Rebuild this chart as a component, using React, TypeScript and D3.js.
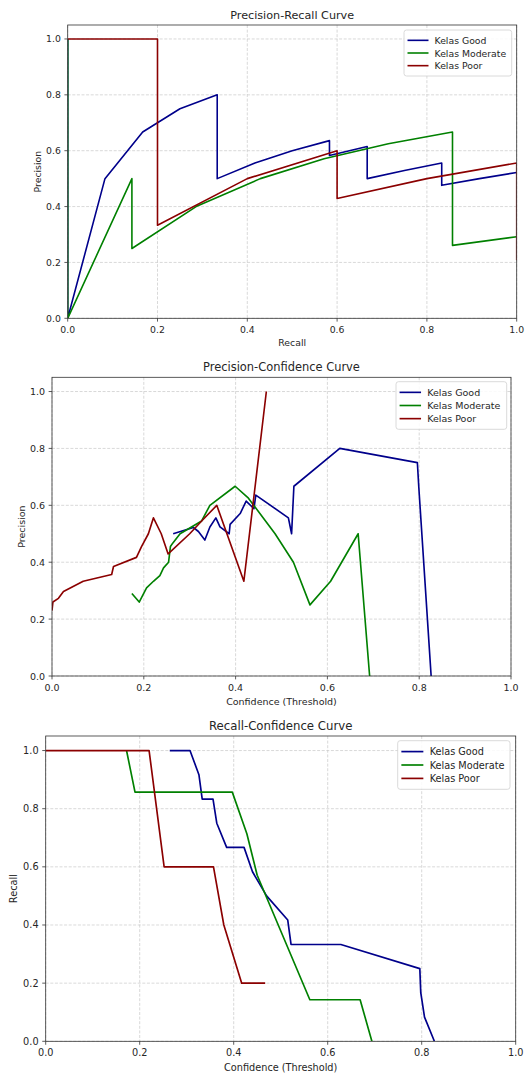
import React from "react";
import * as d3 from "d3";

// ---- data ----
const classNames = ["Kelas Good", "Kelas Moderate", "Kelas Poor"];
const classColors = ["#00008B", "#008000", "#8B0000"];

// Precision-Recall (sklearn order, recall descending)
const prGoodRecall = [1.0, 0.917, 0.833, 0.833, 0.75, 0.667, 0.667, 0.583, 0.583, 0.5, 0.417, 0.333, 0.333, 0.25, 0.167, 0.083, 0, 0];
const prGoodPrecision = [0.522, 0.5, 0.476, 0.556, 0.529, 0.5, 0.615, 0.583, 0.636, 0.6, 0.556, 0.5, 0.8, 0.75, 0.667, 0.5, 0, 1];
const prModRecall = [1.0, 0.857, 0.857, 0.714, 0.571, 0.429, 0.286, 0.143, 0.143, 0, 0];
const prModPrecision = [0.292, 0.261, 0.667, 0.625, 0.571, 0.5, 0.4, 0.25, 0.5, 0, 1];
const prPoorRecall = [1.0, 1.0, 0.8, 0.6, 0.6, 0.4, 0.2, 0.2, 0];
const prPoorPrecision = [0.208, 0.556, 0.5, 0.429, 0.6, 0.5, 0.333, 1.0, 1.0];

// Precision vs confidence threshold
const pcGoodConf = [0.264, 0.308, 0.319, 0.333, 0.344, 0.357, 0.366, 0.386, 0.388, 0.41, 0.423, 0.44, 0.444, 0.515, 0.522, 0.527, 0.627, 0.796, 0.799, 0.826];
const pcGoodPrecision = [0.5, 0.522, 0.508, 0.478, 0.524, 0.556, 0.524, 0.5, 0.533, 0.571, 0.615, 0.588, 0.636, 0.556, 0.5, 0.667, 0.8, 0.75, 0.667, 0];
const pcModConf = [0.174, 0.19, 0.206, 0.221, 0.235, 0.243, 0.254, 0.258, 0.263, 0.279, 0.326, 0.344, 0.399, 0.428, 0.486, 0.526, 0.562, 0.607, 0.667, 0.692];
const pcModPrecision = [0.29, 0.26, 0.31, 0.333, 0.353, 0.38, 0.4, 0.455, 0.467, 0.5, 0.545, 0.6, 0.667, 0.625, 0.5, 0.4, 0.25, 0.333, 0.5, 0];
const pcPoorConf = [0, 0.002, 0.014, 0.025, 0.068, 0.13, 0.134, 0.184, 0.195, 0.21, 0.221, 0.238, 0.253, 0.3, 0.326, 0.359, 0.418, 0.467];
const pcPoorPrecision = [0.23, 0.26, 0.273, 0.297, 0.333, 0.357, 0.385, 0.417, 0.455, 0.5, 0.556, 0.5, 0.429, 0.5, 0.545, 0.6, 0.333, 1.0];

// Recall vs confidence threshold
const rcGoodConf = [0.264, 0.307, 0.326, 0.333, 0.356, 0.364, 0.385, 0.422, 0.44, 0.47, 0.515, 0.522, 0.628, 0.796, 0.798, 0.806, 0.827];
const rcGoodRecall = [1, 1, 0.917, 0.833, 0.833, 0.75, 0.667, 0.667, 0.583, 0.5, 0.417, 0.333, 0.333, 0.25, 0.167, 0.083, 0];
const rcModConf = [0.172, 0.19, 0.397, 0.428, 0.45, 0.562, 0.669, 0.694];
const rcModRecall = [1, 0.857, 0.857, 0.714, 0.571, 0.143, 0.143, 0];
const rcPoorConf = [0, 0.22, 0.252, 0.357, 0.379, 0.417, 0.467];
const rcPoorRecall = [1, 1, 0.6, 0.6, 0.4, 0.2, 0.2];

const ticks = [0, 0.2, 0.4, 0.6, 0.8, 1.0];

const FONT = "DejaVu Sans";

type Series = { name: string; color: string; xs: number[]; ys: number[] };

type PanelProps = {
  id: string;
  title: string;
  xLabel: string;
  yLabel: string;
  series: Series[];
  left: number;
  right: number;
  top: number;
  bottom: number;
  k: number;
  titleY: number;
  xLabelY: number;
  yLabelX: number;
  legend: { x: number; y: number; w: number; h: number };
};

const Panel = (props: PanelProps) => {
  const { left, right, top, bottom, k } = props;
  const x = d3.scaleLinear().domain([0, 1]).range([left, right]);
  const y = d3.scaleLinear().domain([0, 1.05]).range([bottom, top]);
  const fmt = d3.format(".1f");
  const line = d3
    .line<[number, number]>()
    .x(d => x(d[0]))
    .y(d => y(d[1]));

  const tickFont = 9.3 * k;
  const lg = props.legend;
  const rowH = (lg.h - 8 * k) / 3;

  return (
    <g>
      <defs>
        <clipPath id={props.id}>
          <rect x={left} y={top} width={right - left} height={bottom - top} />
        </clipPath>
      </defs>

      {/* grid */}
      {ticks.map(t => (
        <g key={"g" + t} stroke="#c8c8c8" strokeWidth={0.7} strokeDasharray="3,1.6">
          <line x1={x(t)} x2={x(t)} y1={top} y2={bottom} />
          <line x1={left} x2={right} y1={y(t)} y2={y(t)} />
        </g>
      ))}

      {/* curves */}
      <g clipPath={`url(#${props.id})`}>
        {props.series.map(s => (
          <path
            key={s.name}
            d={line(s.xs.map((v, i) => [v, s.ys[i]] as [number, number])) || ""}
            fill="none"
            stroke={s.color}
            strokeWidth={1.6 * k}
            strokeLinejoin="round"
          />
        ))}
      </g>

      {/* frame */}
      <rect x={left} y={top} width={right - left} height={bottom - top} fill="none" stroke="#333" strokeWidth={0.8} />

      {/* x ticks */}
      {ticks.map(t => (
        <g key={"x" + t}>
          <line x1={x(t)} x2={x(t)} y1={bottom} y2={bottom + 3.3 * k} stroke="#333" strokeWidth={0.8} />
          <text x={x(t)} y={bottom + 10.8 * k} textAnchor="middle" dominantBaseline="central" fontSize={tickFont} fill="#262626">
            {fmt(t)}
          </text>
        </g>
      ))}
      {/* y ticks */}
      {ticks.map(t => (
        <g key={"y" + t}>
          <line x1={left - 3.3 * k} x2={left} y1={y(t)} y2={y(t)} stroke="#333" strokeWidth={0.8} />
          <text x={left - 6.8 * k} y={y(t)} textAnchor="end" dominantBaseline="central" fontSize={tickFont} fill="#262626">
            {fmt(t)}
          </text>
        </g>
      ))}

      <text x={(left + right) / 2} y={props.titleY} textAnchor="middle" dominantBaseline="central" fontSize={11.2 * k} fill="#262626">
        {props.title}
      </text>
      <text x={(left + right) / 2} y={props.xLabelY} textAnchor="middle" dominantBaseline="central" fontSize={tickFont} fill="#262626">
        {props.xLabel}
      </text>
      <text
        transform={`translate(${props.yLabelX},${(top + bottom) / 2}) rotate(-90)`}
        textAnchor="middle"
        dominantBaseline="central"
        fontSize={tickFont}
        fill="#262626"
      >
        {props.yLabel}
      </text>

      {/* legend */}
      <rect x={lg.x} y={lg.y} width={lg.w} height={lg.h} rx={2.5} fill="#fff" fillOpacity={0.85} stroke="#d0d0d0" strokeWidth={0.8} />
      {props.series.map((s, i) => {
        const cy = lg.y + 4 * k + rowH * (i + 0.5);
        return (
          <g key={"l" + s.name}>
            <line x1={lg.x + 3.5 * k} x2={lg.x + 24.5 * k} y1={cy} y2={cy} stroke={s.color} strokeWidth={1.6 * k} />
            <text x={lg.x + 30.5 * k} y={cy} dominantBaseline="central" fontSize={tickFont} fill="#262626">
              {s.name}
            </text>
          </g>
        );
      })}
    </g>
  );
};

const App = () => {
  const prSeries: Series[] = [
    { name: classNames[0], color: classColors[0], xs: prGoodRecall, ys: prGoodPrecision },
    { name: classNames[1], color: classColors[1], xs: prModRecall, ys: prModPrecision },
    { name: classNames[2], color: classColors[2], xs: prPoorRecall, ys: prPoorPrecision },
  ];
  const pcSeries: Series[] = [
    { name: classNames[0], color: classColors[0], xs: pcGoodConf, ys: pcGoodPrecision },
    { name: classNames[1], color: classColors[1], xs: pcModConf, ys: pcModPrecision },
    { name: classNames[2], color: classColors[2], xs: pcPoorConf, ys: pcPoorPrecision },
  ];
  const rcSeries: Series[] = [
    { name: classNames[0], color: classColors[0], xs: rcGoodConf, ys: rcGoodRecall },
    { name: classNames[1], color: classColors[1], xs: rcModConf, ys: rcModRecall },
    { name: classNames[2], color: classColors[2], xs: rcPoorConf, ys: rcPoorRecall },
  ];

  return (
    <div style={{ position: "absolute", left: 0, top: 0 }}>
      <svg width={525} height={1074} style={{ display: "block", background: "#fff" }} fontFamily={FONT}>
        <Panel
          id="clip-pr"
          title="Precision-Recall Curve"
          xLabel="Recall"
          yLabel="Precision"
          series={prSeries}
          left={67.7}
          right={516.7}
          top={25}
          bottom={318.3}
          k={1}
          titleY={15}
          xLabelY={342.5}
          yLabelX={37.5}
          legend={{ x: 404, y: 30, w: 107.7, h: 46 }}
        />
        <Panel
          id="clip-pc"
          title="Precision-Confidence Curve"
          xLabel="Confidence (Threshold)"
          yLabel="Precision"
          series={pcSeries}
          left={52}
          right={511}
          top={377.3}
          bottom={676}
          k={1.022}
          titleY={366.7}
          xLabelY={701.5}
          yLabelX={21}
          legend={{ x: 396, y: 381.7, w: 110.7, h: 47.6 }}
        />
        <Panel
          id="clip-rc"
          title="Recall-Confidence Curve"
          xLabel="Confidence (Threshold)"
          yLabel="Recall"
          series={rcSeries}
          left={45.7}
          right={515.7}
          top={736}
          bottom={1041.3}
          k={1.047}
          titleY={725.7}
          xLabelY={1067.3}
          yLabelX={13}
          legend={{ x: 397.7, y: 740.7, w: 112.3, h: 48.6 }}
        />
      </svg>
    </div>
  );
};

export default App;
